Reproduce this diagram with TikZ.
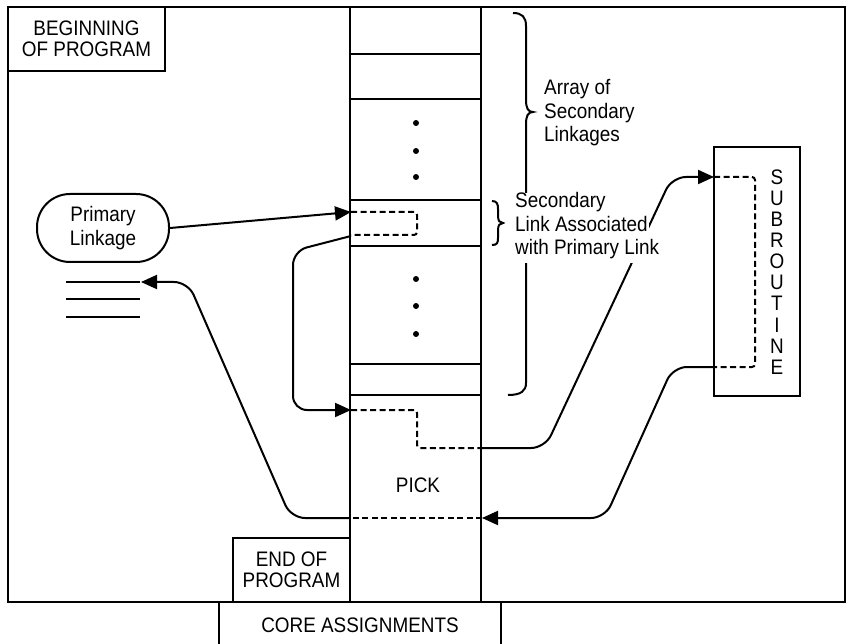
\documentclass[tikz,border=0pt]{standalone}
\usepackage{fontspec}
\setmainfont{Liberation Sans}[FakeStretch=0.9]
\usetikzlibrary{arrows.meta}
\begin{document}
\begin{tikzpicture}[x=1pt,y=-1pt,
  heavy/.style={line width=2.2pt},
  thin/.style={line width=2pt},
  link/.style={line width=2pt, rounded corners=14pt},
  dashlink/.style={line width=2pt, dash pattern=on 6pt off 3.5pt, rounded corners=3pt},
  tip/.style={-{Triangle[length=16pt,width=14pt]}},
  lbl/.style={font=\fontsize{21}{23.5}\selectfont, inner sep=0pt},
  caps/.style={font=\fontsize{21}{21}\selectfont, inner sep=0pt},
  cover/.style={lbl, fill=white, anchor=base west, text height=15pt, text depth=8.5pt, inner xsep=1pt, inner ysep=0pt},
]
\useasboundingbox (0,0) rectangle (846,644);

% outer frame of the program area
\draw[heavy] (8,602) -- (8,7) -- (845,7) -- (845,602) -- cycle;

% label boxes
\node[heavy, draw, caps, align=center, minimum width=157pt, minimum height=64pt] (beg) at (86.5,39) {BEGINNING\\OF PROGRAM};
\node[heavy, draw, caps, align=center, minimum width=117pt, minimum height=64pt] (endp) at (291.5,570) {END OF\\PROGRAM};
\draw[heavy] (219,644) -- (219,602) (501,602) -- (501,644);
\node[caps] (core) at (360,625) {CORE ASSIGNMENTS};

% memory column with its cells
\node[heavy, draw, minimum width=131pt, minimum height=595pt] (col) at (415.5,304.5) {};
\foreach \yy in {54,99,200,246,364,395}
  \draw[heavy] (col.west |- 0,\yy) -- (col.east |- 0,\yy);
\foreach \yy in {123,151,177,279,306,334}
  \fill (416,\yy) circle (3pt);
\node[caps] (pick) at (418,485) {PICK};

% primary linkage and calling code
\node[draw, thin, lbl, align=center, rounded corners=33pt, minimum width=132pt, minimum height=68pt] (prim) at (103,228) {Primary\\Linkage};
\draw[thin] (66,282) -- (140,282) (66,299) -- (140,299) (66,317) -- (140,317);
\coordinate (ret) at (141,282);

% subroutine
\node[heavy, draw, minimum width=86pt, minimum height=249pt] (sub) at (757,271.5) {};
\node[font=\fontsize{21}{21.1}\selectfont, inner sep=0pt, align=center] (subtxt) at (777,272) {S\\U\\B\\R\\O\\U\\T\\I\\N\\E};

% connection points
\coordinate (p1) at (351,212);
\coordinate (p2) at (351,410);
\coordinate (p3) at (482,518);
\coordinate (s1) at (714,177);
\coordinate (s2) at (714,367);

% control flow
\draw[link, tip] (prim.east) -- (p1);
\draw[dashlink] (p1) -- (417,212) -- (417,235) -- (351,235);
\draw[link, tip] (351,236) -- (293,251) -- (293,410) -- (p2);
\draw[dashlink] (p2) -- (417,410) -- (417,448) -- (481,448);
\draw[link, tip] (481,448) -- (545,448) -- (672,177) -- (s1);
\draw[dashlink] (s1) -- (755,177) -- (755,367) -- (s2);
\draw[link, tip] (s2) -- (673,367) -- (605,518) -- (p3);
\draw[dashlink] (p3) -- (350,518);
\draw[link, tip] (350,518) -- (291,518) -- (188,282) -- (ret);

% braces
\draw[thin] (513,13) .. controls (522,13) and (526,17) .. (526,26) -- (526,100)
  .. controls (526,108) and (528,112) .. (533,112)
  .. controls (528,112) and (526,116) .. (526,124) -- (526,383)
  .. controls (526,391) and (521,395) .. (508,395);
\draw[thin] (492,201) .. controls (497,201) and (498,204) .. (498,209) -- (498,216)
  .. controls (498,221) and (500,223) .. (503,223)
  .. controls (500,223) and (498,225) .. (498,230) -- (498,238)
  .. controls (498,243) and (497,245) .. (492,245);

% brace labels
\node[lbl, align=left, anchor=west] (arr) at (544,113) {Array of\\Secondary\\Linkages};
\node[cover] (sec1) at (514,208) {Secondary};
\node[cover] (sec2) at (514,231.5) {Link Associated};
\node[cover] (sec3) at (514,255) {with Primary Link};
\end{tikzpicture}
\end{document}
